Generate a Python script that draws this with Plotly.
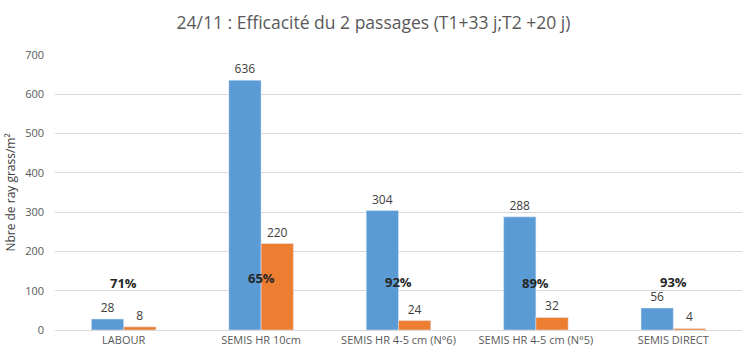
import plotly.graph_objects as go

categories = ["LABOUR", "SEMIS HR 10cm", "SEMIS HR 4-5 cm (N°6)", "SEMIS HR 4-5 cm (N°5)", "SEMIS DIRECT"]
t1_values = [28, 636, 304, 288, 56]
t2_values = [8, 220, 24, 32, 4]
efficacy_labels = ["71%", "65%", "92%", "89%", "93%"]
efficacy_y = [120, 132, 122, 120, 122]
y_ticks = [0, 100, 200, 300, 400, 500, 600, 700]

FONT = "Open Sans"
fig = go.Figure()
fig.add_trace(go.Bar(x=categories, y=t1_values, marker_color="#5B9BD5",
                     text=[str(v) for v in t1_values], textposition="outside",
                     textfont=dict(color="#404040", size=12), cliponaxis=False, name="T1"))
fig.add_trace(go.Bar(x=categories, y=t2_values, marker_color="#ED7D31",
                     text=[str(v) for v in t2_values], textposition="outside",
                     textfont=dict(color="#404040", size=12), cliponaxis=False, name="T2"))

for c, lab, yv in zip(categories, efficacy_labels, efficacy_y):
    fig.add_annotation(x=c, y=yv, text="<b>" + lab + "</b>", showarrow=False,
                       font=dict(size=13, color="#262626", family=FONT))

fig.update_layout(
    width=747, height=356,
    margin=dict(l=55, r=5, t=55, b=26),
    paper_bgcolor="white", plot_bgcolor="white",
    font=dict(family=FONT, color="#595959"),
    title=dict(text="24/11 : Efficacité du 2 passages (T1+33 j;T2 +20 j)",
               x=0.5, xanchor="center", y=0.935, yanchor="middle",
               font=dict(size=17.5, color="#595959", family=FONT)),
    showlegend=False,
    barmode="group", bargap=0.53, bargroupgap=0,
)
fig.update_yaxes(range=[0, 700], tickvals=y_ticks, gridcolor="#D9D9D9", zeroline=False,
                 showline=False, tickfont=dict(size=11, color="#595959"), ticklabelstandoff=10,
                 title=dict(text="Nbre de ray grass/m²", font=dict(size=12, color="#404040"), standoff=6))
fig.update_xaxes(showline=True, linecolor="#D9D9D9", tickfont=dict(size=11, color="#595959"))

fig.write_html("out.html", config={"displayModeBar": False},
               post_script="document.body.style.margin='0';document.body.style.overflow='hidden';")
